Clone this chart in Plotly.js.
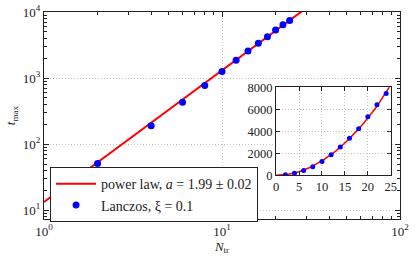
<!DOCTYPE html>
<html><head><meta charset="utf-8">
<script src="https://cdn.plot.ly/plotly-3.0.1.min.js"></script>
<style>body{margin:0;padding:0;background:#fff}#c{width:415px;height:258px}</style>
</head><body><div id="c"></div>
<script>
const nTr = [2, 4, 6, 8, 10, 12, 14, 16, 18, 20, 22, 24];
const tMax = [51, 190, 430, 770, 1260, 1860, 2580, 3380, 4230, 5320, 6410, 7450];
const fitA = 1.99;
const fitC = 13.4;
const mainTickVals = [1, 10, 100, 1000, 10000];
const mainTickText = ['10<sup>0</sup>', '10<sup>1</sup>', '10<sup>2</sup>', '10<sup>3</sup>', '10<sup>4</sup>'];
const minorMantissas = [2, 3, 4, 5, 6, 7, 8, 9];

function minorVals(decades) {
  const out = [];
  decades.forEach(d => minorMantissas.forEach(m => out.push(m * d)));
  return out;
}

const fitN = [];
for (let n = 0; n <= 40; n += 0.25) fitN.push(n);
const fitT = fitN.map(n => fitC * Math.pow(n, fitA));
const fitNlog = fitN.filter(n => n >= 1);
const fitTlog = fitNlog.map(n => fitC * Math.pow(n, fitA));

const serif = 'Liberation Serif, serif';
const axBase = {showline: true, linecolor: '#222', linewidth: 1, mirror: 'ticks', ticks: 'inside',
  ticklen: 5, tickcolor: '#222', gridcolor: '#c4c4c4', griddash: '1px,2px', gridwidth: 1, zeroline: false};

const data = [
  {x: fitNlog, y: fitTlog, mode: 'lines', line: {color: '#ff0000', width: 2}, name: 'power law, <i>a</i> = 1.99 ± 0.02', xaxis: 'x', yaxis: 'y'},
  {x: nTr, y: tMax, mode: 'markers', marker: {color: '#0000ff', size: 7}, name: 'Lanczos, ξ = 0.1', xaxis: 'x', yaxis: 'y'},
  {x: fitN, y: fitT, mode: 'lines', line: {color: '#ff0000', width: 1.5}, showlegend: false, xaxis: 'x2', yaxis: 'y2'},
  {x: nTr, y: tMax, mode: 'markers', marker: {color: '#0000ff', size: 5}, showlegend: false, xaxis: 'x2', yaxis: 'y2'}
];

const layout = {
  width: 415, height: 258,
  margin: {l: 44, r: 15, t: 12, b: 39},
  paper_bgcolor: '#fff', plot_bgcolor: '#fff',
  font: {family: serif, size: 13, color: '#222'},
  showlegend: true,
  legend: {x: 0.017, y: 0.25, xanchor: 'left', yanchor: 'top', bgcolor: '#fff', bordercolor: '#222', borderwidth: 1,
    font: {family: serif, size: 14, color: '#222'}, tracegroupgap: 0, itemwidth: 40},
  xaxis: Object.assign({}, axBase, {type: 'log', range: [0, 2], domain: [0, 1], tickvals: mainTickVals, ticktext: mainTickText,
    minor: {tickvals: minorVals([1, 10]), ticks: 'inside', ticklen: 3, tickcolor: '#222', showgrid: false},
    title: {text: '<i>N</i><sub>tr</sub>', standoff: 2, font: {size: 13}}}),
  yaxis: Object.assign({}, axBase, {type: 'log', range: [0.868, 4], domain: [0, 1], tickvals: mainTickVals, ticktext: mainTickText,
    minor: {tickvals: minorVals([1, 10, 100, 1000]), ticks: 'inside', ticklen: 3, tickcolor: '#222', showgrid: false},
    title: {text: '<i>t</i><sub>max</sub>', standoff: 4, font: {size: 13}}}),
  xaxis2: Object.assign({}, axBase, {anchor: 'y2', domain: [0.652, 0.974], range: [0, 25], dtick: 5, ticklen: 4,
    tickfont: {size: 12.5}}),
  yaxis2: Object.assign({}, axBase, {anchor: 'x2', domain: [0.211, 0.636], range: [0, 8000], dtick: 2000, ticklen: 4,
    tickfont: {size: 12.5}})
};

Plotly.newPlot('c', data, layout, {displayModeBar: false, staticPlot: true});
</script></body></html>
